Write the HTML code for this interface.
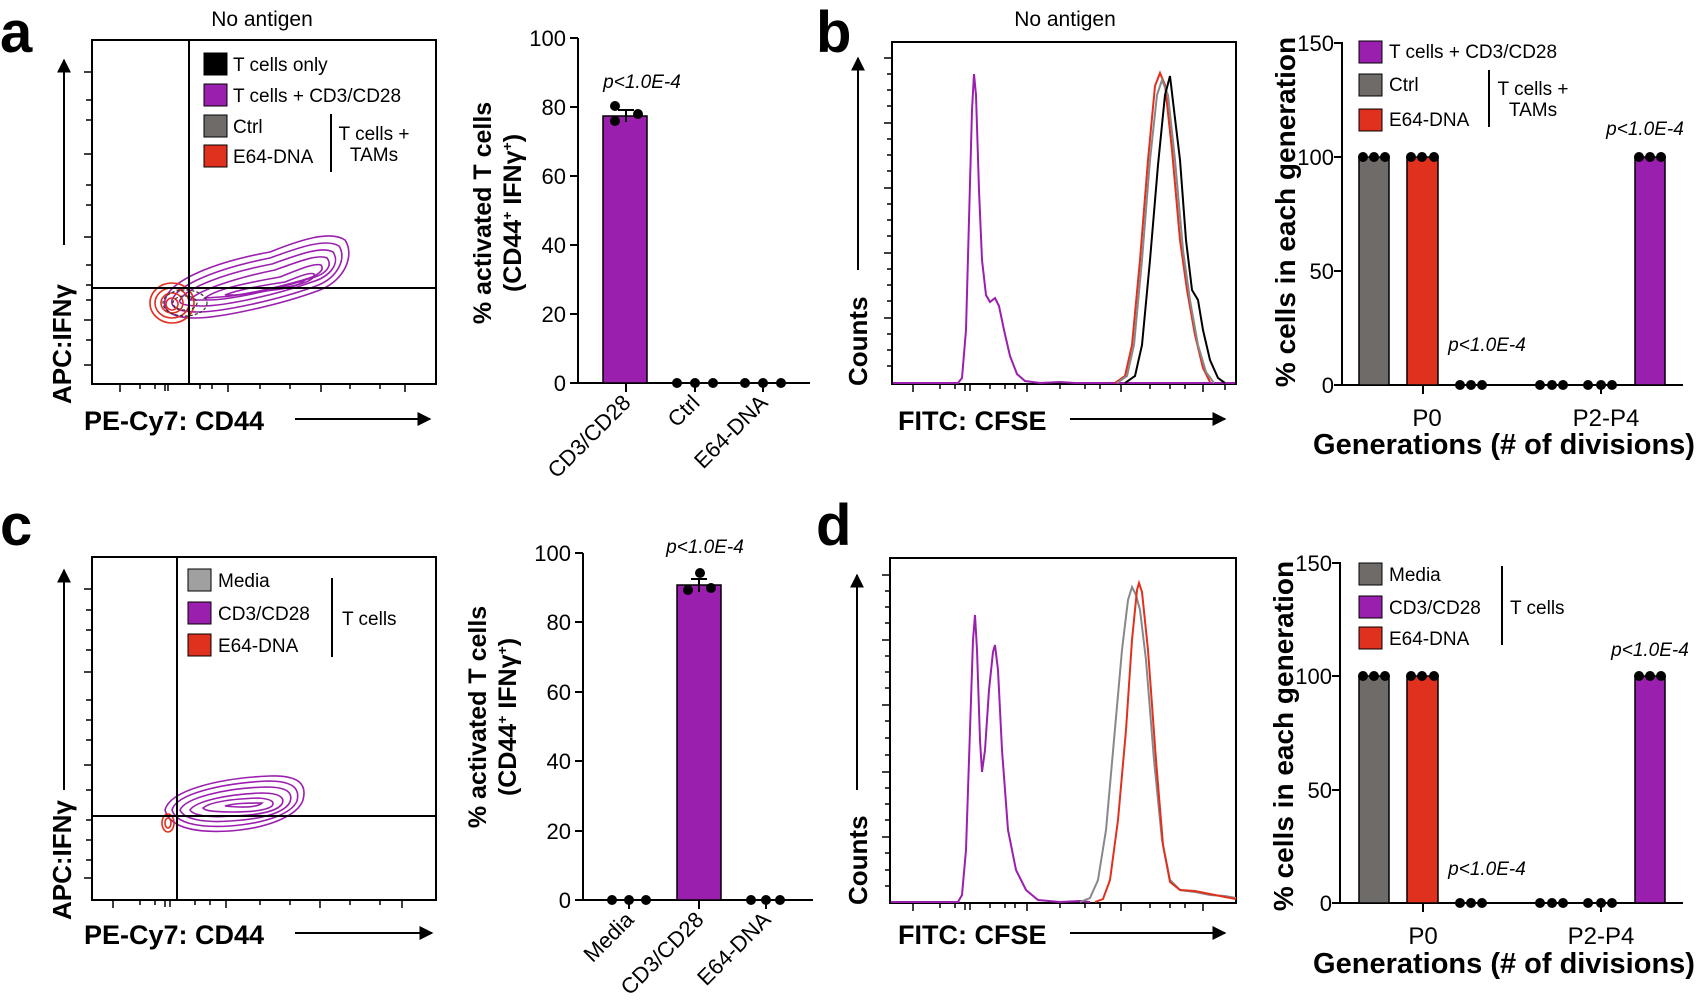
<!DOCTYPE html>
<html><head><meta charset="utf-8"><style>
html,body{margin:0;padding:0;background:#fff;}
svg{display:block;font-family:"Liberation Sans",Arial,sans-serif;}
.t{font-size:22px;}
.lg{font-size:19px;}
.ax{stroke:#000;stroke-width:2;fill:none;}
.p{font-size:19px;font-style:italic;}
</style></head><body>
<svg width="1702" height="1008" viewBox="0 0 1702 1008" xmlns="http://www.w3.org/2000/svg">
<defs>
<marker id="ar" viewBox="0 0 10 10" refX="9" refY="5" markerWidth="7" markerHeight="7" orient="auto"><path d="M0,0 L10,5 L0,10 z" fill="#000"/></marker>
</defs>

<!-- ===== Panel a ===== -->
<text x="0" y="52" font-size="58" font-weight="bold">a</text>
<text x="262" y="26" font-size="21" text-anchor="middle">No antigen</text>
<rect x="92" y="40" width="344" height="344" class="ax"/>
<g stroke="#000" stroke-width="1.5">
<line x1="84" y1="72" x2="92" y2="72"/><line x1="84" y1="154" x2="92" y2="154"/><line x1="84" y1="237" x2="92" y2="237"/><line x1="84" y1="320" x2="92" y2="320"/><line x1="84" y1="365" x2="92" y2="365"/>
<line x1="86" y1="100" x2="92" y2="100"/><line x1="86" y1="120" x2="92" y2="120"/><line x1="86" y1="185" x2="92" y2="185"/><line x1="86" y1="205" x2="92" y2="205"/><line x1="86" y1="265" x2="92" y2="265"/><line x1="86" y1="285" x2="92" y2="285"/><line x1="86" y1="300" x2="92" y2="300"/><line x1="86" y1="340" x2="92" y2="340"/>
<line x1="120" y1="384" x2="120" y2="392"/><line x1="228" y1="384" x2="228" y2="392"/><line x1="321" y1="384" x2="321" y2="392"/><line x1="405" y1="384" x2="405" y2="392"/>
<line x1="140" y1="384" x2="140" y2="389"/><line x1="155" y1="384" x2="155" y2="389"/><line x1="165" y1="384" x2="165" y2="391"/><line x1="168" y1="384" x2="168" y2="391"/><line x1="200" y1="384" x2="200" y2="389"/><line x1="212" y1="384" x2="212" y2="389"/><line x1="260" y1="384" x2="260" y2="389"/><line x1="290" y1="384" x2="290" y2="389"/><line x1="350" y1="384" x2="350" y2="389"/><line x1="380" y1="384" x2="380" y2="389"/>
</g>
<g fill="none" stroke="#9b1fae" stroke-width="1.6">
<path d="M165,300 C170,280 215,262 270,252 C300,240 330,230 345,240 C355,255 345,280 320,290 C280,305 220,318 195,318 C175,318 162,312 165,300 z"/>
<path d="M172,300 C178,284 220,268 270,258 C300,247 326,238 339,246 C347,258 338,278 316,286 C278,300 222,312 198,312 C180,312 170,308 172,300 z"/>
<path d="M180,300 C186,288 225,273 272,264 C300,254 322,246 333,252 C340,262 332,276 312,282 C276,295 225,306 202,306 C186,306 178,304 180,300 z"/>
<path d="M190,300 C196,292 230,279 275,270 C300,261 318,254 327,258 C333,266 326,275 308,279 C275,290 230,300 208,300 C195,300 188,300 190,300 z"/>
<path d="M205,298 C215,290 240,284 280,277 C300,269 314,263 321,265 C325,270 318,276 303,280 C275,288 240,296 220,297 z"/>
<path d="M225,295 C240,289 265,285 285,282 C300,276 310,272 314,274 C316,278 308,282 297,285 C275,290 250,294 235,295 z"/>
<path d="M260,291 C275,288 290,284 305,280 C298,287 280,290 260,291 z"/>
</g>
<g fill="none" stroke="#e0301e" stroke-width="1.6">
<ellipse cx="172" cy="303" rx="22" ry="20"/><ellipse cx="172" cy="303" rx="17" ry="15"/><ellipse cx="172" cy="303" rx="11" ry="10"/><ellipse cx="172" cy="304" rx="6" ry="6"/>
</g>
<g fill="none" stroke="#333" stroke-width="1.2" stroke-dasharray="3,2"><ellipse cx="185" cy="303" rx="22" ry="13"/><ellipse cx="185" cy="303" rx="12" ry="7"/></g>
<line x1="189" y1="40" x2="189" y2="384" stroke="#000" stroke-width="2"/>
<line x1="92" y1="288" x2="436" y2="288" stroke="#000" stroke-width="2"/>
<rect x="204" y="53" width="23" height="22" fill="#000" stroke="#000"/>
<rect x="204" y="84" width="23" height="22" fill="#9b1fae" stroke="#000"/>
<rect x="204" y="115" width="23" height="22" fill="#6e6b69" stroke="#000"/>
<rect x="204" y="145" width="23" height="22" fill="#e0301e" stroke="#000"/>
<text x="233" y="71" class="lg">T cells only</text>
<text x="233" y="102" class="lg">T cells + CD3/CD28</text>
<text x="233" y="133" class="lg">Ctrl</text>
<text x="233" y="163" class="lg">E64-DNA</text>
<line x1="331" y1="114" x2="331" y2="172" stroke="#000" stroke-width="2"/>
<text x="374" y="140" class="lg" text-anchor="middle">T cells +</text>
<text x="374" y="161" class="lg" text-anchor="middle">TAMs</text>
<text transform="translate(71,404) rotate(-90)" font-size="26" font-weight="bold">APC:IFNγ</text>
<line x1="64" y1="245" x2="64" y2="60" stroke="#000" stroke-width="2" marker-end="url(#ar)"/>
<text x="84" y="430" font-size="27" font-weight="bold">PE-Cy7: CD44</text>
<line x1="295" y1="419" x2="430" y2="419" stroke="#000" stroke-width="2" marker-end="url(#ar)"/>

<!-- bar a -->
<g class="ax"><line x1="578" y1="38" x2="578" y2="384"/><line x1="570" y1="383" x2="810" y2="383"/>
<line x1="570" y1="38" x2="578" y2="38"/><line x1="570" y1="107" x2="578" y2="107"/><line x1="570" y1="176" x2="578" y2="176"/><line x1="570" y1="245" x2="578" y2="245"/><line x1="570" y1="314" x2="578" y2="314"/>
<line x1="626" y1="383" x2="626" y2="392"/><line x1="695" y1="383" x2="695" y2="392"/><line x1="763" y1="383" x2="763" y2="392"/></g>
<g class="t" text-anchor="end"><text x="566" y="46">100</text><text x="566" y="115">80</text><text x="566" y="184">60</text><text x="566" y="253">40</text><text x="566" y="322">20</text><text x="566" y="391">0</text></g>
<rect x="603" y="116" width="44" height="267" fill="#9b1fae" stroke="#000" stroke-width="1.5"/>
<line x1="626" y1="110" x2="626" y2="122" stroke="#000" stroke-width="2"/><line x1="618" y1="110" x2="634" y2="110" stroke="#000" stroke-width="2"/>
<g fill="#000"><circle cx="615" cy="106" r="5"/><circle cx="615" cy="121" r="5"/><circle cx="638" cy="114" r="5"/>
<circle cx="677" cy="383" r="5"/><circle cx="695" cy="383" r="5"/><circle cx="713" cy="383" r="5"/>
<circle cx="745" cy="383" r="5"/><circle cx="763" cy="383" r="5"/><circle cx="781" cy="383" r="5"/></g>
<text x="642" y="88" class="p" text-anchor="middle">p&lt;1.0E-4</text>
<g class="t" text-anchor="end"><text transform="translate(632,404) rotate(-45)">CD3/CD28</text><text transform="translate(701,404) rotate(-45)">Ctrl</text><text transform="translate(769,404) rotate(-45)">E64-DNA</text></g>
<g font-size="25" font-weight="bold" text-anchor="middle"><text transform="translate(491,213) rotate(-90)">% activated T cells</text><text transform="translate(521,213) rotate(-90)">(CD44<tspan font-size="14" dy="-9">+</tspan><tspan dy="9"> IFNγ</tspan><tspan font-size="14" dy="-9">+</tspan><tspan dy="9">)</tspan></text></g>

<!-- ===== Panel b ===== -->
<text x="816" y="52" font-size="58" font-weight="bold">b</text>
<text x="1065" y="26" font-size="21" text-anchor="middle">No antigen</text>
<rect x="892" y="42" width="344" height="342" class="ax"/>
<g stroke="#000" stroke-width="1.5">
<line x1="884" y1="58" x2="892" y2="58"/><line x1="884" y1="123" x2="892" y2="123"/><line x1="884" y1="188" x2="892" y2="188"/><line x1="884" y1="253" x2="892" y2="253"/><line x1="884" y1="318" x2="892" y2="318"/>
<line x1="887" y1="74" x2="892" y2="74"/><line x1="887" y1="90" x2="892" y2="90"/><line x1="887" y1="106" x2="892" y2="106"/><line x1="887" y1="139" x2="892" y2="139"/><line x1="887" y1="155" x2="892" y2="155"/><line x1="887" y1="171" x2="892" y2="171"/><line x1="887" y1="204" x2="892" y2="204"/><line x1="887" y1="220" x2="892" y2="220"/><line x1="887" y1="236" x2="892" y2="236"/><line x1="887" y1="269" x2="892" y2="269"/><line x1="887" y1="285" x2="892" y2="285"/><line x1="887" y1="301" x2="892" y2="301"/><line x1="887" y1="334" x2="892" y2="334"/><line x1="887" y1="350" x2="892" y2="350"/><line x1="887" y1="366" x2="892" y2="366"/>
<line x1="913" y1="384" x2="913" y2="392"/><line x1="1027" y1="384" x2="1027" y2="392"/><line x1="1121" y1="384" x2="1121" y2="392"/><line x1="1203" y1="384" x2="1203" y2="392"/><line x1="1225" y1="384" x2="1225" y2="390"/>
<line x1="940" y1="384" x2="940" y2="389"/><line x1="955" y1="384" x2="955" y2="389"/><line x1="965" y1="384" x2="965" y2="391"/><line x1="970" y1="384" x2="970" y2="391"/><line x1="990" y1="384" x2="990" y2="389"/><line x1="1005" y1="384" x2="1005" y2="389"/><line x1="1015" y1="384" x2="1015" y2="389"/><line x1="1060" y1="384" x2="1060" y2="389"/><line x1="1085" y1="384" x2="1085" y2="389"/><line x1="1100" y1="384" x2="1100" y2="389"/><line x1="1150" y1="384" x2="1150" y2="389"/><line x1="1170" y1="384" x2="1170" y2="389"/><line x1="1185" y1="384" x2="1185" y2="389"/>
</g>
<g fill="none" stroke-width="2">
<path stroke="#9b1fae" d="M893,383 L958,383 L962,378 L966,330 L969,220 L972,110 L974,74 L976,95 L979,190 L982,260 L986,295 L990,302 L995,298 L999,306 L1004,330 L1010,356 L1017,374 L1025,381 L1040,383 L1060,382 L1075,383 L1235,383"/>
<path stroke="#e0301e" d="M1115,383 L1125,376 L1132,345 L1140,260 L1148,160 L1155,86 L1160,73 L1165,85 L1172,150 L1180,240 L1187,290 L1195,335 L1203,368 L1210,382"/>
<path stroke="#888" d="M1117,383 L1127,376 L1134,345 L1142,260 L1150,160 L1157,95 L1162,80 L1168,95 L1175,160 L1183,250 L1190,300 L1198,345 L1206,372 L1214,383"/>
<path stroke="#000" d="M1125,383 L1135,376 L1142,345 L1150,260 L1158,165 L1165,95 L1170,76 L1174,110 L1180,160 L1186,240 L1192,290 L1198,300 L1203,330 L1210,360 L1218,378 L1225,383"/>
</g>
<text transform="translate(867,386) rotate(-90)" font-size="26" font-weight="bold">Counts</text>
<line x1="858" y1="270" x2="858" y2="58" stroke="#000" stroke-width="2" marker-end="url(#ar)"/>
<text x="898" y="430" font-size="27" font-weight="bold">FITC: CFSE</text>
<line x1="1070" y1="419" x2="1225" y2="419" stroke="#000" stroke-width="2" marker-end="url(#ar)"/>

<!-- bar b -->
<g class="ax"><line x1="1342" y1="42" x2="1342" y2="386"/><line x1="1334" y1="385" x2="1683" y2="385"/>
<line x1="1334" y1="43" x2="1342" y2="43"/><line x1="1334" y1="157" x2="1342" y2="157"/><line x1="1334" y1="271" x2="1342" y2="271"/>
<line x1="1423" y1="385" x2="1423" y2="394"/><line x1="1601" y1="385" x2="1601" y2="394"/></g>
<g class="t" text-anchor="end"><text x="1334" y="51">150</text><text x="1334" y="165">100</text><text x="1334" y="279">50</text><text x="1334" y="393">0</text></g>
<rect x="1359" y="157" width="30" height="228" fill="#6e6b69" stroke="#000" stroke-width="1.5"/>
<rect x="1407" y="157" width="31" height="228" fill="#e0301e" stroke="#000" stroke-width="1.5"/>
<rect x="1635" y="157" width="30" height="228" fill="#9b1fae" stroke="#000" stroke-width="1.5"/>
<g fill="#000"><circle cx="1363" cy="157" r="5"/><circle cx="1374" cy="157" r="5"/><circle cx="1385" cy="157" r="5"/>
<circle cx="1411" cy="157" r="5"/><circle cx="1422" cy="157" r="5"/><circle cx="1434" cy="157" r="5"/>
<circle cx="1639" cy="157" r="5"/><circle cx="1650" cy="157" r="5"/><circle cx="1661" cy="157" r="5"/>
<circle cx="1460" cy="385" r="5"/><circle cx="1471" cy="385" r="5"/><circle cx="1482" cy="385" r="5"/>
<circle cx="1540" cy="385" r="5"/><circle cx="1552" cy="385" r="5"/><circle cx="1563" cy="385" r="5"/>
<circle cx="1588" cy="385" r="5"/><circle cx="1601" cy="385" r="5"/><circle cx="1612" cy="385" r="5"/></g>
<rect x="1359" y="41" width="23" height="22" fill="#9b1fae" stroke="#000"/>
<rect x="1359" y="74" width="23" height="22" fill="#6e6b69" stroke="#000"/>
<rect x="1359" y="109" width="23" height="22" fill="#e0301e" stroke="#000"/>
<text x="1389" y="58" class="lg">T cells + CD3/CD28</text>
<text x="1389" y="91" class="lg">Ctrl</text>
<text x="1389" y="126" class="lg">E64-DNA</text>
<line x1="1489" y1="70" x2="1489" y2="127" stroke="#000" stroke-width="2"/>
<text x="1533" y="95" class="lg" text-anchor="middle">T cells +</text>
<text x="1533" y="116" class="lg" text-anchor="middle">TAMs</text>
<text x="1487" y="351" class="p" text-anchor="middle">p&lt;1.0E-4</text>
<text x="1645" y="135" class="p" text-anchor="middle">p&lt;1.0E-4</text>
<text x="1427" y="426" font-size="24" text-anchor="middle">P0</text>
<text x="1606" y="426" font-size="24" text-anchor="middle">P2-P4</text>
<text x="1504" y="454" font-size="29" font-weight="bold" text-anchor="middle">Generations (# of divisions)</text>
<text transform="translate(1295,212) rotate(-90)" font-size="28" font-weight="bold" text-anchor="middle">% cells in each generation</text>

<!-- ===== Panel c ===== -->
<text x="0" y="545" font-size="58" font-weight="bold">c</text>
<rect x="92" y="557" width="344" height="343" class="ax"/>
<g stroke="#000" stroke-width="1.5">
<line x1="84" y1="589" x2="92" y2="589"/><line x1="84" y1="672" x2="92" y2="672"/><line x1="84" y1="765" x2="92" y2="765"/><line x1="84" y1="878" x2="92" y2="878"/>
<line x1="86" y1="610" x2="92" y2="610"/><line x1="86" y1="630" x2="92" y2="630"/><line x1="86" y1="650" x2="92" y2="650"/><line x1="86" y1="700" x2="92" y2="700"/><line x1="86" y1="720" x2="92" y2="720"/><line x1="86" y1="740" x2="92" y2="740"/><line x1="86" y1="790" x2="92" y2="790"/><line x1="86" y1="820" x2="92" y2="820"/><line x1="86" y1="840" x2="92" y2="840"/><line x1="86" y1="860" x2="92" y2="860"/>
<line x1="113" y1="900" x2="113" y2="908"/><line x1="226" y1="900" x2="226" y2="908"/><line x1="320" y1="900" x2="320" y2="908"/><line x1="402" y1="900" x2="402" y2="908"/>
<line x1="140" y1="900" x2="140" y2="905"/><line x1="155" y1="900" x2="155" y2="905"/><line x1="165" y1="900" x2="165" y2="907"/><line x1="170" y1="900" x2="170" y2="907"/><line x1="195" y1="900" x2="195" y2="905"/><line x1="210" y1="900" x2="210" y2="905"/><line x1="260" y1="900" x2="260" y2="905"/><line x1="290" y1="900" x2="290" y2="905"/><line x1="350" y1="900" x2="350" y2="905"/><line x1="380" y1="900" x2="380" y2="905"/>
</g>
<g fill="none" stroke="#9b1fae" stroke-width="1.6">
<path d="M165,810 C170,790 220,778 270,776 C300,775 307,785 303,800 C298,815 270,828 230,831 C195,833 170,828 165,810 z"/>
<path d="M172,810 C176,794 222,783 268,781 C294,781 300,789 297,801 C292,813 268,823 230,826 C198,828 176,823 172,810 z"/>
<path d="M180,810 C185,798 225,788 266,787 C288,787 293,793 290,802 C285,812 265,819 230,821 C203,823 184,819 180,810 z"/>
<path d="M190,810 C196,801 228,794 262,793 C280,793 285,798 282,804 C277,811 262,815 232,816 C208,818 193,815 190,810 z"/>
<path d="M203,808 C210,802 232,799 258,798 C272,799 275,802 272,806 C267,810 255,812 232,812 C215,812 205,811 203,808 z"/>
<path d="M225,806 C235,803 250,803 262,803 C258,807 245,808 225,806 z"/>
</g>
<g fill="none" stroke="#e0301e" stroke-width="1.6"><ellipse cx="168" cy="823" rx="6" ry="9"/><ellipse cx="168" cy="823" rx="3" ry="5"/></g>
<line x1="177" y1="557" x2="177" y2="900" stroke="#000" stroke-width="2"/>
<line x1="92" y1="816" x2="436" y2="816" stroke="#000" stroke-width="2"/>
<rect x="188" y="569" width="23" height="22" fill="#a0a0a0" stroke="#000"/>
<rect x="188" y="602" width="23" height="22" fill="#9b1fae" stroke="#000"/>
<rect x="188" y="634" width="23" height="22" fill="#e0301e" stroke="#000"/>
<text x="218" y="587" class="lg">Media</text>
<text x="218" y="620" class="lg">CD3/CD28</text>
<text x="218" y="652" class="lg">E64-DNA</text>
<line x1="332" y1="578" x2="332" y2="657" stroke="#000" stroke-width="2"/>
<text x="342" y="625" class="lg">T cells</text>
<text transform="translate(71,920) rotate(-90)" font-size="26" font-weight="bold">APC:IFNγ</text>
<line x1="64" y1="790" x2="64" y2="570" stroke="#000" stroke-width="2" marker-end="url(#ar)"/>
<text x="84" y="944" font-size="27" font-weight="bold">PE-Cy7: CD44</text>
<line x1="295" y1="933" x2="432" y2="933" stroke="#000" stroke-width="2" marker-end="url(#ar)"/>

<!-- bar c -->
<g class="ax"><line x1="583" y1="553" x2="583" y2="901"/><line x1="575" y1="900" x2="813" y2="900"/>
<line x1="575" y1="553" x2="583" y2="553"/><line x1="575" y1="622" x2="583" y2="622"/><line x1="575" y1="692" x2="583" y2="692"/><line x1="575" y1="761" x2="583" y2="761"/><line x1="575" y1="831" x2="583" y2="831"/>
<line x1="629" y1="900" x2="629" y2="909"/><line x1="699" y1="900" x2="699" y2="909"/><line x1="766" y1="900" x2="766" y2="909"/></g>
<g class="t" text-anchor="end"><text x="571" y="561">100</text><text x="571" y="630">80</text><text x="571" y="700">60</text><text x="571" y="769">40</text><text x="571" y="839">20</text><text x="571" y="908">0</text></g>
<rect x="677" y="585" width="44" height="315" fill="#9b1fae" stroke="#000" stroke-width="1.5"/>
<line x1="699" y1="579" x2="699" y2="592" stroke="#000" stroke-width="2"/><line x1="691" y1="579" x2="707" y2="579" stroke="#000" stroke-width="2"/>
<g fill="#000"><circle cx="700" cy="573" r="5"/><circle cx="688" cy="590" r="5"/><circle cx="711" cy="588" r="5"/>
<circle cx="612" cy="900" r="5"/><circle cx="629" cy="900" r="5"/><circle cx="646" cy="900" r="5"/>
<circle cx="751" cy="900" r="5"/><circle cx="766" cy="900" r="5"/><circle cx="780" cy="900" r="5"/></g>
<text x="705" y="553" class="p" text-anchor="middle">p&lt;1.0E-4</text>
<g class="t" text-anchor="end"><text transform="translate(635,921) rotate(-45)">Media</text><text transform="translate(705,921) rotate(-45)">CD3/CD28</text><text transform="translate(772,921) rotate(-45)">E64-DNA</text></g>
<g font-size="25" font-weight="bold" text-anchor="middle"><text transform="translate(486,717) rotate(-90)">% activated T cells</text><text transform="translate(516,717) rotate(-90)">(CD44<tspan font-size="14" dy="-9">+</tspan><tspan dy="9"> IFNγ</tspan><tspan font-size="14" dy="-9">+</tspan><tspan dy="9">)</tspan></text></g>

<!-- ===== Panel d ===== -->
<text x="816" y="545" font-size="58" font-weight="bold">d</text>
<rect x="890" y="558" width="346" height="345" class="ax"/>
<g stroke="#000" stroke-width="1.5">
<line x1="882" y1="575" x2="890" y2="575"/><line x1="882" y1="640" x2="890" y2="640"/><line x1="882" y1="705" x2="890" y2="705"/><line x1="882" y1="772" x2="890" y2="772"/><line x1="882" y1="837" x2="890" y2="837"/>
<line x1="885" y1="591" x2="890" y2="591"/><line x1="885" y1="607" x2="890" y2="607"/><line x1="885" y1="623" x2="890" y2="623"/><line x1="885" y1="656" x2="890" y2="656"/><line x1="885" y1="672" x2="890" y2="672"/><line x1="885" y1="688" x2="890" y2="688"/><line x1="885" y1="721" x2="890" y2="721"/><line x1="885" y1="738" x2="890" y2="738"/><line x1="885" y1="755" x2="890" y2="755"/><line x1="885" y1="788" x2="890" y2="788"/><line x1="885" y1="804" x2="890" y2="804"/><line x1="885" y1="820" x2="890" y2="820"/><line x1="885" y1="853" x2="890" y2="853"/><line x1="885" y1="870" x2="890" y2="870"/><line x1="885" y1="886" x2="890" y2="886"/>
<line x1="913" y1="903" x2="913" y2="911"/><line x1="1027" y1="903" x2="1027" y2="911"/><line x1="1121" y1="903" x2="1121" y2="911"/><line x1="1203" y1="903" x2="1203" y2="911"/>
<line x1="940" y1="903" x2="940" y2="908"/><line x1="955" y1="903" x2="955" y2="908"/><line x1="965" y1="903" x2="965" y2="910"/><line x1="970" y1="903" x2="970" y2="910"/><line x1="990" y1="903" x2="990" y2="908"/><line x1="1005" y1="903" x2="1005" y2="908"/><line x1="1015" y1="903" x2="1015" y2="908"/><line x1="1060" y1="903" x2="1060" y2="908"/><line x1="1085" y1="903" x2="1085" y2="908"/><line x1="1100" y1="903" x2="1100" y2="908"/><line x1="1150" y1="903" x2="1150" y2="908"/><line x1="1170" y1="903" x2="1170" y2="908"/><line x1="1185" y1="903" x2="1185" y2="908"/>
</g>
<g fill="none" stroke-width="2">
<path stroke="#9b1fae" d="M891,902 L958,902 L962,895 L966,850 L970,730 L973,640 L975,615 L977,650 L980,740 L982,772 L985,750 L989,690 L993,652 L995,645 L998,670 L1002,750 L1008,830 L1016,870 L1026,890 L1038,900 L1060,902 L1080,901 L1090,902"/>
<path stroke="#888" d="M1080,902 L1090,898 L1098,880 L1106,830 L1114,740 L1122,650 L1128,600 L1132,587 L1136,595 L1140,610 L1146,660 L1154,760 L1162,840 L1170,880 L1180,890 L1195,892 L1210,895 L1225,896 L1236,898"/>
<path stroke="#e0301e" d="M1095,902 L1103,899 L1110,880 L1118,820 L1126,730 L1132,640 L1137,590 L1139,583 L1142,592 L1148,650 L1156,760 L1163,845 L1170,882 L1180,890 L1195,891 L1210,894 L1225,897 L1236,899"/>
</g>
<text transform="translate(867,905) rotate(-90)" font-size="26" font-weight="bold">Counts</text>
<line x1="857" y1="790" x2="857" y2="575" stroke="#000" stroke-width="2" marker-end="url(#ar)"/>
<text x="898" y="944" font-size="27" font-weight="bold">FITC: CFSE</text>
<line x1="1070" y1="933" x2="1225" y2="933" stroke="#000" stroke-width="2" marker-end="url(#ar)"/>

<!-- bar d -->
<g class="ax"><line x1="1340" y1="562" x2="1340" y2="904"/><line x1="1332" y1="903" x2="1683" y2="903"/>
<line x1="1332" y1="563" x2="1340" y2="563"/><line x1="1332" y1="676" x2="1340" y2="676"/><line x1="1332" y1="790" x2="1340" y2="790"/>
<line x1="1423" y1="903" x2="1423" y2="912"/><line x1="1601" y1="903" x2="1601" y2="912"/></g>
<g class="t" text-anchor="end"><text x="1332" y="571">150</text><text x="1332" y="684">100</text><text x="1332" y="798">50</text><text x="1332" y="911">0</text></g>
<rect x="1359" y="676" width="30" height="227" fill="#6e6b69" stroke="#000" stroke-width="1.5"/>
<rect x="1407" y="676" width="31" height="227" fill="#e0301e" stroke="#000" stroke-width="1.5"/>
<rect x="1635" y="676" width="30" height="227" fill="#9b1fae" stroke="#000" stroke-width="1.5"/>
<g fill="#000"><circle cx="1363" cy="676" r="5"/><circle cx="1374" cy="676" r="5"/><circle cx="1385" cy="676" r="5"/>
<circle cx="1411" cy="676" r="5"/><circle cx="1422" cy="676" r="5"/><circle cx="1434" cy="676" r="5"/>
<circle cx="1639" cy="676" r="5"/><circle cx="1650" cy="676" r="5"/><circle cx="1661" cy="676" r="5"/>
<circle cx="1460" cy="903" r="5"/><circle cx="1471" cy="903" r="5"/><circle cx="1482" cy="903" r="5"/>
<circle cx="1540" cy="903" r="5"/><circle cx="1552" cy="903" r="5"/><circle cx="1563" cy="903" r="5"/>
<circle cx="1588" cy="903" r="5"/><circle cx="1601" cy="903" r="5"/><circle cx="1612" cy="903" r="5"/></g>
<rect x="1359" y="563" width="23" height="22" fill="#6e6b69" stroke="#000"/>
<rect x="1359" y="596" width="23" height="22" fill="#9b1fae" stroke="#000"/>
<rect x="1359" y="627" width="23" height="22" fill="#e0301e" stroke="#000"/>
<text x="1389" y="581" class="lg">Media</text>
<text x="1389" y="614" class="lg">CD3/CD28</text>
<text x="1389" y="645" class="lg">E64-DNA</text>
<line x1="1502" y1="566" x2="1502" y2="645" stroke="#000" stroke-width="2"/>
<text x="1510" y="614" class="lg">T cells</text>
<text x="1487" y="875" class="p" text-anchor="middle">p&lt;1.0E-4</text>
<text x="1650" y="656" class="p" text-anchor="middle">p&lt;1.0E-4</text>
<text x="1423" y="944" font-size="24" text-anchor="middle">P0</text>
<text x="1601" y="944" font-size="24" text-anchor="middle">P2-P4</text>
<text x="1504" y="973" font-size="29" font-weight="bold" text-anchor="middle">Generations (# of divisions)</text>
<text transform="translate(1293,736) rotate(-90)" font-size="28" font-weight="bold" text-anchor="middle">% cells in each generation</text>
</svg>
</body></html>
